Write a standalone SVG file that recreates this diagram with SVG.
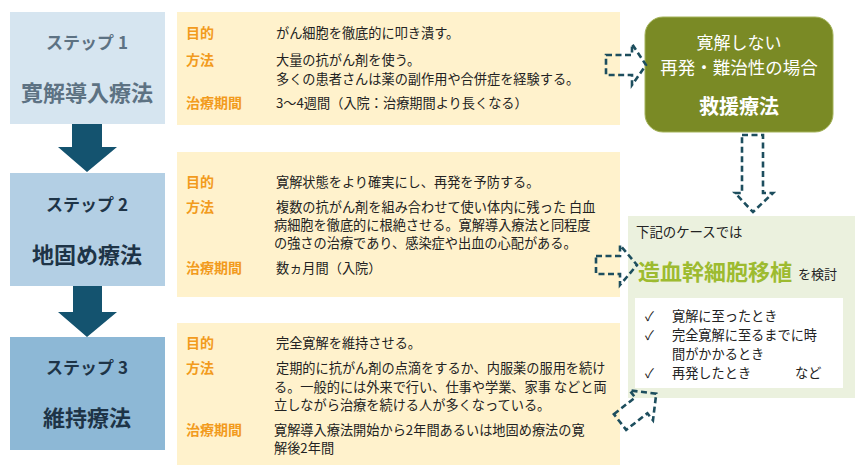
<svg xmlns="http://www.w3.org/2000/svg" width="864" height="473" viewBox="0 0 864 473">
<defs>
<style>
text{font-family:"Noto Sans CJK JP","Noto Sans",sans-serif;}
.step{font-weight:bold;text-anchor:middle;}
.s1{fill:#5d7283;}
.s23{fill:#1e3447;}
.lab{fill:#f29b1d;font-weight:bold;font-size:14px;}
.body{fill:#222;font-size:13.2px;}
.orange{fill:#fff2cc;}
.dash{fill:none;stroke:#1d4e5e;stroke-width:2.6;stroke-dasharray:6 3.5;stroke-linejoin:miter;}
.down{fill:#14536f;}
.ck{fill:#222;font-size:13px;}
.ct{fill:#222;font-size:13.2px;}
</style>
</defs>
<rect width="864" height="473" fill="#ffffff"/>

<g id="step1">
<rect x="10" y="12" width="155" height="112" fill="#d6e5f0"/>
<text class="step s1" x="87" y="49" font-size="17">ステップ 1</text>
<text class="step s1" x="87" y="101" font-size="22">寛解導入療法</text>
</g>
<g id="step2">
<rect x="10" y="173" width="155" height="113" fill="#b3cfe4"/>
<text class="step s23" x="87" y="211" font-size="17">ステップ 2</text>
<text class="step s23" x="87" y="263" font-size="22">地固め療法</text>
</g>
<g id="step3">
<rect x="10" y="337" width="155" height="113" fill="#8db8d6"/>
<text class="step s23" x="87" y="374" font-size="17">ステップ 3</text>
<text class="step s23" x="87" y="426" font-size="22">維持療法</text>
</g>

<g id="detail1">
<rect class="orange" x="177" y="12" width="443" height="113"/>
<text class="lab" x="186" y="38">目的</text>
<text class="body" x="276" y="38">がん細胞を徹底的に叩き潰す。</text>
<text class="lab" x="186" y="65">方法</text>
<text class="body" x="276" y="65">大量の抗がん剤を使う。</text>
<text class="body" x="276" y="83.5">多くの患者さんは薬の副作用や合併症を経験する。</text>
<text class="lab" x="186" y="108">治療期間</text>
<text class="body" x="276" y="108">3～4週間（入院：治療期間より長くなる）</text>
</g>
<g id="detail2">
<rect class="orange" x="177" y="152" width="443" height="145"/>
<text class="lab" x="186" y="187">目的</text>
<text class="body" x="276" y="187">寛解状態をより確実にし、再発を予防する。</text>
<text class="lab" x="186" y="212">方法</text>
<text class="body" x="276" y="212">複数の抗がん剤を組み合わせて使い体内に残った 白血</text>
<text class="body" x="274" y="230">病細胞を徹底的に根絶させる。寛解導入療法と同程度</text>
<text class="body" x="274" y="248">の強さの治療であり、感染症や出血の心配がある。</text>
<text class="lab" x="186" y="273">治療期間</text>
<text class="body" x="276" y="273">数ヵ月間（入院）</text>
</g>
<g id="detail3">
<rect class="orange" x="177" y="323" width="443" height="142"/>
<text class="lab" x="186" y="348">目的</text>
<text class="body" x="276" y="348">完全寛解を維持させる。</text>
<text class="lab" x="186" y="373">方法</text>
<text class="body" x="276" y="373">定期的に抗がん剤の点滴をするか、内服薬の服用を続け</text>
<text class="body" x="274" y="391.5">る。一般的には外来で行い、仕事や学業、家事 などと両</text>
<text class="body" x="274" y="410">立しながら治療を続ける人が多くなっている。</text>
<text class="lab" x="186" y="435">治療期間</text>
<text class="body" x="274" y="435">寛解導入療法開始から2年間あるいは地固め療法の寛</text>
<text class="body" x="274" y="453">解後2年間</text>
</g>

<g id="salvage">
<rect x="645" y="17" width="188" height="115" rx="18" ry="18" fill="#7a8a25" stroke="#a4b35a" stroke-width="1"/>
<text x="739" y="49" font-size="17" fill="#ffffff" text-anchor="middle">寛解しない</text>
<text x="739" y="74" font-size="17.5" fill="#ffffff" text-anchor="middle">再発・難治性の場合</text>
<text x="739" y="114" font-size="20" font-weight="bold" fill="#ffffff" text-anchor="middle">救援療法</text>
</g>

<g id="transplant">
<rect x="628" y="216" width="227" height="182" fill="#ebf1de"/>
<text x="636" y="237" font-size="13.4" fill="#222">下記のケースでは</text>
<text x="638" y="280" font-size="22" font-weight="bold" fill="#9dbb30">造血幹細胞移植</text>
<text x="798" y="279" font-size="13" fill="#222">を検討</text>
<rect x="635" y="298" width="208" height="90" fill="#ffffff"/>
<text class="ck" x="645" y="321">✓</text>
<text class="ct" x="672" y="321">寛解に至ったとき</text>
<text class="ck" x="645" y="340">✓</text>
<text class="ct" x="672" y="340">完全寛解に至るまでに時</text>
<text class="ct" x="672" y="359">間がかかるとき</text>
<text class="ck" x="645" y="378">✓</text>
<text class="ct" x="672" y="378">再発したとき</text>
<text class="ct" x="795" y="378">など</text>
</g>

<g id="connectors">
<polygon class="down" points="72,124 102,124 102,147 117,147 87,172 58,147 72,147"/>
<polygon class="down" points="73,286 102,286 102,312 117,312 87,337 58,312 73,312"/>
<polygon class="dash" points="606,55 632,55 632,44 646,65 632,85 632,75 606,75"/>
<polygon class="dash" points="596,256 620,256 620,245 637,265 620,285 620,274 596,274"/>
<polygon class="dash" points="742,135 763,135 763,193 773,193 753,212 735,193 742,193"/>
<polygon class="dash" transform="translate(620,422) rotate(-38)" points="0,-10 27,-10 27,-19 46,0 27,19 27,10 0,10"/>
</g>
</svg>
